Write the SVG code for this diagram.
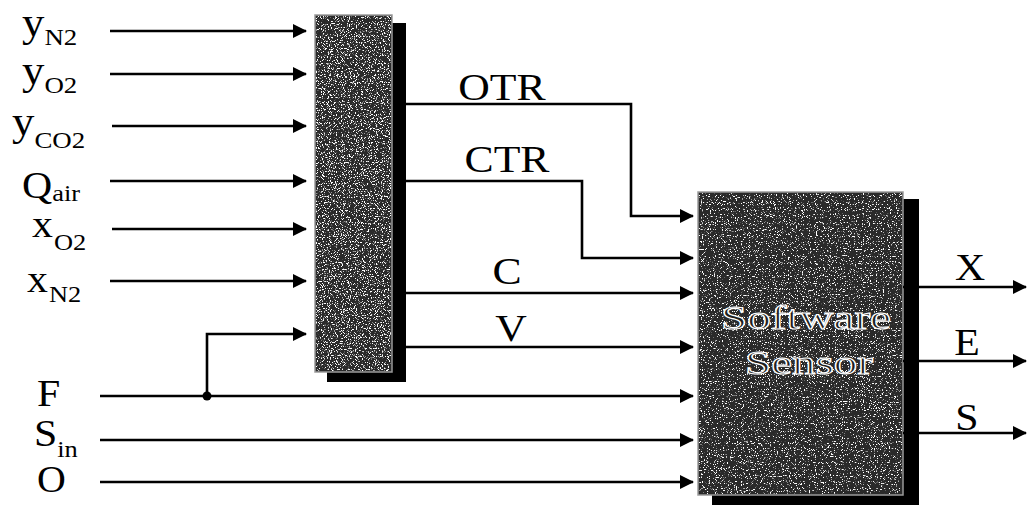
<svg xmlns="http://www.w3.org/2000/svg" width="1027" height="505" viewBox="0 0 1027 505">
<style>
.t{font-family:"Liberation Serif","Times New Roman",serif;font-size:38px;fill:#000}
.s{font-size:24px}
.c{text-anchor:middle}
.w{fill:none;stroke:#000;stroke-width:2.6}
.sh{fill:#000}
.bx{fill:#2a2a2a;stroke:#9a9a9a;stroke-width:1.5}
.sp{fill:#fff}
.sw{font-family:"Liberation Serif","Times New Roman",serif;font-size:33px;fill:#1e1e1e;stroke:#fff;stroke-width:1.1;text-anchor:middle}
</style>
<defs>
<marker id="ah" markerUnits="userSpaceOnUse" markerWidth="14" markerHeight="14" refX="13" refY="7" orient="auto">
<path d="M0,0 L14,7 L0,14 Z" fill="#000"/>
</marker>
<filter id="speckle" x="0" y="0" width="100%" height="100%">
<feTurbulence type="fractalNoise" baseFrequency="0.85" numOctaves="2" seed="7" result="n"/>
<feColorMatrix in="n" type="matrix" values="0 0 0 0 1  0 0 0 0 1  0 0 0 0 1  10 0 0 0 -5.6"/>
<feComposite in2="SourceGraphic" operator="in"/>
</filter>
<filter id="speckle2" x="0" y="0" width="100%" height="100%">
<feTurbulence type="fractalNoise" baseFrequency="0.85" numOctaves="2" seed="11" result="n"/>
<feColorMatrix in="n" type="matrix" values="0 0 0 0 1  0 0 0 0 1  0 0 0 0 1  10 0 0 0 -6.0"/>
<feComposite in2="SourceGraphic" operator="in"/>
</filter>
</defs>
<rect width="1027" height="505" fill="#fff"/>

<g id="calc">
<rect class="sh" x="327" y="23" width="79" height="359"/>
<rect class="bx" x="315" y="15" width="77" height="357"/>
<rect class="sp" x="316" y="16" width="75" height="355" filter="url(#speckle)"/>
</g>

<g id="sensor">
<rect class="sh" x="712" y="199" width="207" height="306"/>
<rect class="bx" x="698" y="192" width="205" height="303"/>
<rect class="sp" x="699" y="193" width="203" height="301" filter="url(#speckle2)"/>
<text class="sw" x="806" y="329" textLength="170" lengthAdjust="spacingAndGlyphs">Software</text>
<text class="sw" x="809" y="374" textLength="128" lengthAdjust="spacingAndGlyphs">Sensor</text>
</g>

<g id="connectors">
<path class="w" marker-end="url(#ah)" d="M110,31 H306"/>
<path class="w" marker-end="url(#ah)" d="M110,74 H306"/>
<path class="w" marker-end="url(#ah)" d="M112,126 H306"/>
<path class="w" marker-end="url(#ah)" d="M110,181 H306"/>
<path class="w" marker-end="url(#ah)" d="M112,229 H306"/>
<path class="w" marker-end="url(#ah)" d="M110,281 H306"/>
<path class="w" marker-end="url(#ah)" d="M207,396 V334 H306"/>
<path class="w" marker-end="url(#ah)" d="M100,396 H693"/>
<path class="w" marker-end="url(#ah)" d="M100,440 H693"/>
<path class="w" marker-end="url(#ah)" d="M100,482 H693"/>
<circle cx="207" cy="396" r="4.5" fill="#000"/>
<path class="w" marker-end="url(#ah)" d="M406,104 H631 V216 H693"/>
<path class="w" marker-end="url(#ah)" d="M406,181 H582 V258 H693"/>
<path class="w" marker-end="url(#ah)" d="M406,293 H693"/>
<path class="w" marker-end="url(#ah)" d="M406,347 H693"/>
<path class="w" marker-end="url(#ah)" d="M903,287 H1026"/>
<path class="w" marker-end="url(#ah)" d="M903,361 H1026"/>
<path class="w" marker-end="url(#ah)" d="M903,433 H1026"/>
</g>

<g id="in-labels">
<text class="t" transform="translate(22,36) scale(1.12,1)"><tspan font-size="40">y</tspan><tspan class="s" dy="9">N2</tspan></text>
<text class="t" transform="translate(22,84) scale(1.12,1)"><tspan font-size="40">y</tspan><tspan class="s" dy="9">O2</tspan></text>
<text class="t" transform="translate(12,135) scale(1.12,1)"><tspan font-size="40">y</tspan><tspan class="s" dy="13">CO2</tspan></text>
<text class="t" transform="translate(22,198) scale(1.1,1)">Q<tspan class="s" font-size="26" dy="3">air</tspan></text>
<text class="t" transform="translate(32,237) scale(1.1,1)">x<tspan class="s" dx="1" dy="13">O2</tspan></text>
<text class="t" transform="translate(27,292) scale(1.1,1)">x<tspan class="s" dx="1" dy="10">N2</tspan></text>
<text class="t" transform="translate(37,406) scale(1.1,1)" font-size="34">F</text>
<text class="t" transform="translate(34,446) scale(1.1,1)" font-size="36">S<tspan class="s" font-size="26" dy="11">in</tspan></text>
<text class="t" transform="translate(37,492) scale(1.05,1)" font-size="40">O</text>
</g>

<g id="mid-labels">
<text class="t c" transform="translate(502,100) scale(1.15,1)">OTR</text>
<text class="t c" transform="translate(507,172) scale(1.15,1)">CTR</text>
<text class="t c" transform="translate(507,284) scale(1.15,1)" font-size="40">C</text>
<text class="t c" transform="translate(511,341) scale(1.15,1)" font-size="40">V</text>
</g>

<g id="out-labels">
<text class="t c" transform="translate(970,280) scale(1.1,1)" font-size="40">X</text>
<text class="t c" transform="translate(967,355) scale(1.1,1)" font-size="40">E</text>
<text class="t c" transform="translate(967,430) scale(1.1,1)" font-size="40">S</text>
</g>
</svg>
